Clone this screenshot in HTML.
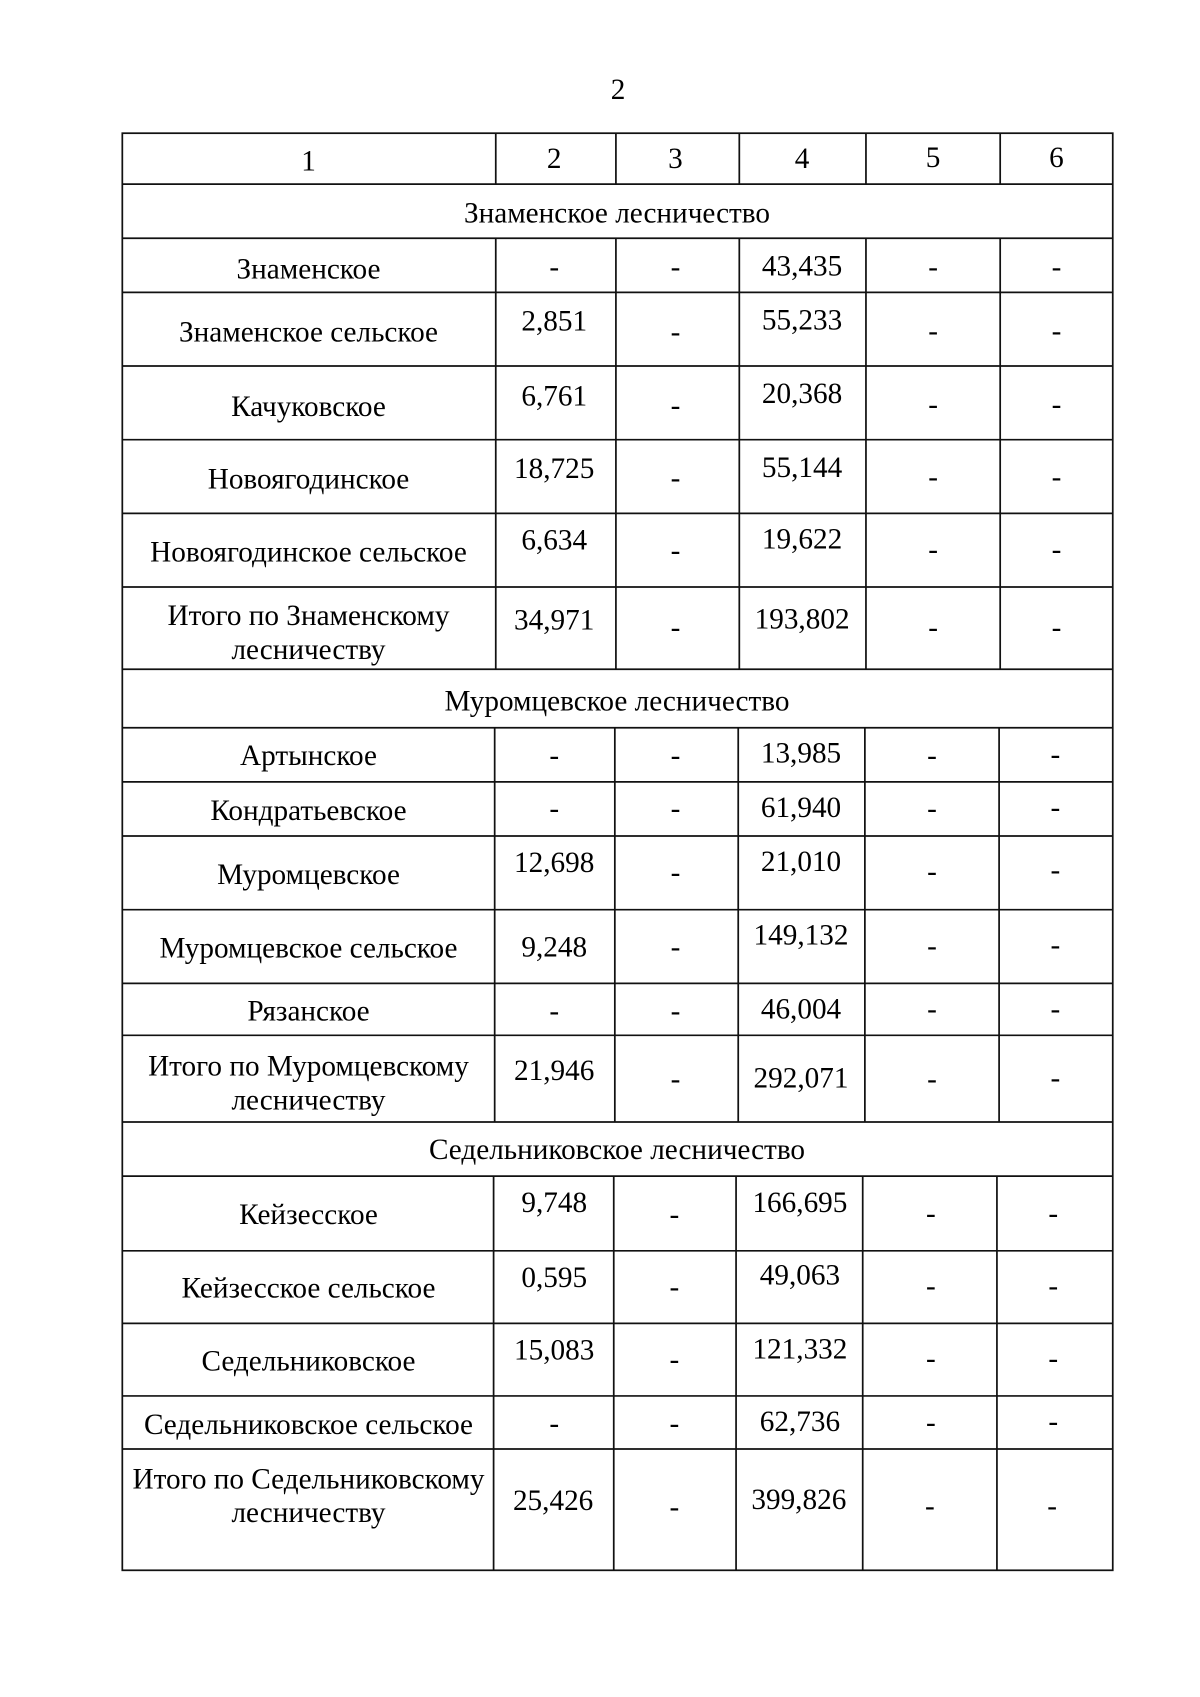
<!DOCTYPE html>
<html><head><meta charset="utf-8"><style>html,body{margin:0;padding:0;background:#fff}svg{display:block}</style></head>
<body>
<svg width="1200" height="1697" viewBox="0 0 1108.6 1567" preserveAspectRatio="none" xmlns="http://www.w3.org/2000/svg" font-family="'Liberation Serif', serif" font-size="27" fill="#000">
<g stroke="#111" stroke-width="1.6" fill="none">
<rect x="113" y="123" width="915" height="1327"/>
<line x1="113" y1="170" x2="1028" y2="170"/>
<line x1="113" y1="220" x2="1028" y2="220"/>
<line x1="113" y1="270" x2="1028" y2="270"/>
<line x1="113" y1="338" x2="1028" y2="338"/>
<line x1="113" y1="406" x2="1028" y2="406"/>
<line x1="113" y1="474" x2="1028" y2="474"/>
<line x1="113" y1="542" x2="1028" y2="542"/>
<line x1="113" y1="618" x2="1028" y2="618"/>
<line x1="113" y1="672" x2="1028" y2="672"/>
<line x1="113" y1="722" x2="1028" y2="722"/>
<line x1="113" y1="772" x2="1028" y2="772"/>
<line x1="113" y1="840" x2="1028" y2="840"/>
<line x1="113" y1="908" x2="1028" y2="908"/>
<line x1="113" y1="956" x2="1028" y2="956"/>
<line x1="113" y1="1036" x2="1028" y2="1036"/>
<line x1="113" y1="1086" x2="1028" y2="1086"/>
<line x1="113" y1="1155" x2="1028" y2="1155"/>
<line x1="113" y1="1222" x2="1028" y2="1222"/>
<line x1="113" y1="1289" x2="1028" y2="1289"/>
<line x1="113" y1="1338" x2="1028" y2="1338"/>
<g>
<line x1="458" y1="123" x2="458" y2="170"/><line x1="569" y1="123" x2="569" y2="170"/><line x1="683" y1="123" x2="683" y2="170"/><line x1="800" y1="123" x2="800" y2="170"/><line x1="924" y1="123" x2="924" y2="170"/>
<line x1="458" y1="220" x2="458" y2="618"/><line x1="569" y1="220" x2="569" y2="618"/><line x1="683" y1="220" x2="683" y2="618"/><line x1="800" y1="220" x2="800" y2="618"/><line x1="924" y1="220" x2="924" y2="618"/>
<line x1="457" y1="672" x2="457" y2="1036"/><line x1="568" y1="672" x2="568" y2="1036"/><line x1="682" y1="672" x2="682" y2="1036"/><line x1="799" y1="672" x2="799" y2="1036"/><line x1="923" y1="672" x2="923" y2="1036"/>
<line x1="456" y1="1086" x2="456" y2="1450"/><line x1="567" y1="1086" x2="567" y2="1450"/><line x1="680" y1="1086" x2="680" y2="1450"/><line x1="797" y1="1086" x2="797" y2="1450"/><line x1="921" y1="1086" x2="921" y2="1450"/>
</g>
</g>
<g text-anchor="middle" dominant-baseline="central" stroke="none">
<text x="571" y="83">2</text>
<text x="285" y="149">1</text><text x="512" y="147">2</text><text x="624" y="147">3</text><text x="741" y="147">4</text><text x="862" y="146">5</text><text x="976" y="146">6</text>
<text x="570" y="197">Знаменское лесничество</text>

<text x="285" y="249">Знаменское</text><text x="512" y="247">-</text><text x="624" y="247">-</text><text x="741" y="246">43,435</text><text x="862" y="247">-</text><text x="976" y="247">-</text>
<text x="285" y="307">Знаменское сельское</text><text x="512" y="297">2,851</text><text x="624" y="307">-</text><text x="741" y="296">55,233</text><text x="862" y="306">-</text><text x="976" y="306">-</text>
<text x="285" y="376">Качуковское</text><text x="512" y="366">6,761</text><text x="624" y="375">-</text><text x="741" y="364">20,368</text><text x="862" y="374">-</text><text x="976" y="374">-</text>
<text x="285" y="443">Новоягодинское</text><text x="512" y="433">18,725</text><text x="624" y="442">-</text><text x="741" y="432">55,144</text><text x="862" y="441">-</text><text x="976" y="441">-</text>
<text x="285" y="510">Новоягодинское сельское</text><text x="512" y="499">6,634</text><text x="624" y="509">-</text><text x="741" y="498">19,622</text><text x="862" y="508">-</text><text x="976" y="508">-</text>
<text x="285" y="569">Итого по Знаменскому</text><text x="285" y="600">лесничеству</text><text x="512" y="573">34,971</text><text x="624" y="580">-</text><text x="741" y="572">193,802</text><text x="862" y="580">-</text><text x="976" y="580">-</text>

<text x="570" y="648">Муромцевское лесничество</text>
<text x="285" y="698">Артынское</text><text x="512" y="698">-</text><text x="624" y="698">-</text><text x="740" y="696">13,985</text><text x="861" y="698">-</text><text x="975" y="697">-</text>
<text x="285" y="749">Кондратьевское</text><text x="512" y="747">-</text><text x="624" y="747">-</text><text x="740" y="746">61,940</text><text x="861" y="747">-</text><text x="975" y="746">-</text>
<text x="285" y="808">Муромцевское</text><text x="512" y="797">12,698</text><text x="624" y="806">-</text><text x="740" y="796">21,010</text><text x="861" y="805">-</text><text x="975" y="804">-</text>
<text x="285" y="876">Муромцевское сельское</text><text x="512" y="875">9,248</text><text x="624" y="875">-</text><text x="740" y="864">149,132</text><text x="861" y="874">-</text><text x="975" y="873">-</text>
<text x="285" y="934">Рязанское</text><text x="512" y="934">-</text><text x="624" y="934">-</text><text x="740" y="932">46,004</text><text x="861" y="932">-</text><text x="975" y="932">-</text>
<text x="285" y="985">Итого по Муромцевскому</text><text x="285" y="1016">лесничеству</text><text x="512" y="989">21,946</text><text x="624" y="997">-</text><text x="740" y="996">292,071</text><text x="861" y="997">-</text><text x="975" y="996">-</text>

<text x="570" y="1062">Седельниковское лесничество</text>
<text x="285" y="1122">Кейзесское</text><text x="512" y="1111">9,748</text><text x="623" y="1122">-</text><text x="739" y="1111">166,695</text><text x="860" y="1121">-</text><text x="973" y="1121">-</text>
<text x="285" y="1190">Кейзесское сельское</text><text x="512" y="1180">0,595</text><text x="623" y="1189">-</text><text x="739" y="1178">49,063</text><text x="860" y="1188">-</text><text x="973" y="1188">-</text>
<text x="285" y="1257">Седельниковское</text><text x="512" y="1247">15,083</text><text x="623" y="1256">-</text><text x="739" y="1246">121,332</text><text x="860" y="1255">-</text><text x="973" y="1255">-</text>
<text x="285" y="1316">Седельниковское сельское</text><text x="512" y="1315">-</text><text x="623" y="1315">-</text><text x="739" y="1313">62,736</text><text x="860" y="1314">-</text><text x="973" y="1313">-</text>
<text x="285" y="1366">Итого по Седельниковскому</text><text x="285" y="1397">лесничеству</text><text x="511" y="1386">25,426</text><text x="623" y="1392">-</text><text x="738" y="1385">399,826</text><text x="859" y="1391">-</text><text x="972" y="1391">-</text>
</g>
</svg>
</body></html>
